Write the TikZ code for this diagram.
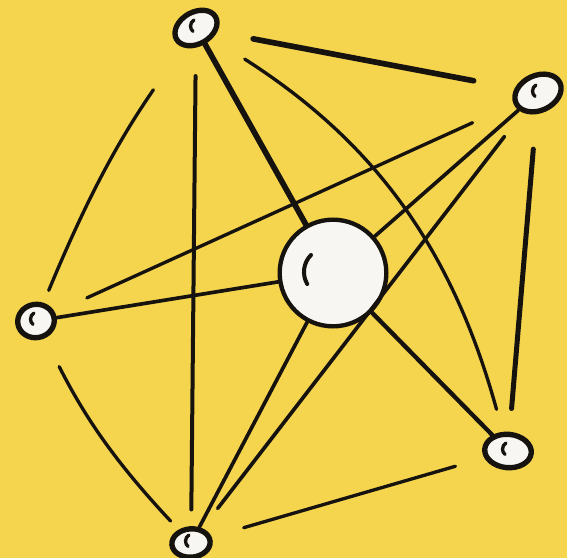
\documentclass[tikz,border=0pt]{standalone}
\usetikzlibrary{shapes.geometric}
\definecolor{sun}{RGB}{245,212,78}
\definecolor{pearl}{RGB}{248,246,243}
\definecolor{ink}{RGB}{22,18,14}
\begin{document}
\begin{tikzpicture}[x=0.6pt,y=-0.6pt,hub/.style={circle,draw=ink,line width=2.6pt,fill=pearl,minimum size=64pt,inner sep=0pt},leaf/.style={ellipse,draw=ink,line width=3.2pt,fill=pearl,inner sep=0pt},spoke/.style={draw=ink,line width=2.2pt,line cap=round},rim/.style={draw=ink,line width=2pt,line cap=round},glint/.style={draw=ink,line width=2pt,line cap=round}]
\fill[sun] (0,0) rectangle (567,558);
\useasboundingbox (0,0) rectangle (567,558);
\node[hub] (C) at (333,273) {};
\node[leaf,minimum width=27pt,minimum height=19pt,rotate=30] (T) at (196,28) {};
\node[leaf,minimum width=29pt,minimum height=21pt,rotate=25] (R) at (538,93) {};
\node[leaf,minimum width=22pt,minimum height=20pt,rotate=10] (L) at (36,321) {};
\node[leaf,minimum width=23pt,minimum height=17pt,rotate=5] (B) at (191,543) {};
\node[leaf,minimum width=28pt,minimum height=20pt,rotate=-5] (BR) at (508,451) {};
% spokes to the hub
\draw[spoke,line width=3.4pt] (C) -- (T);
\draw[spoke] (C) -- (R);
\draw[spoke] (C) -- (L);
\draw[spoke] (C) -- (B);
\draw[spoke,line width=2.6pt] (C) -- (BR);
% outer ring, loose ends
\draw[rim,line width=3.4pt,shorten <=22pt,shorten >=25pt] (T) -- (R);
\draw[rim,shorten <=23pt,shorten >=14pt] (T) to[bend left=21] (BR);
\draw[rim,line width=2.4pt,shorten <=17pt,shorten >=10pt] (T) -- (B);
\draw[rim,shorten <=31pt,shorten >=8pt] (T) to[bend right=6] (L);
\draw[rim,shorten <=27pt,shorten >=21pt] (R) -- (L);
\draw[rim,line width=2.2pt,shorten <=18pt,shorten >=15pt] (R) -- (B);
\draw[rim,line width=3pt,shorten <=21pt,shorten >=14pt] (R) -- (BR);
\draw[rim,shorten <=19pt,shorten >=7pt] (L) to[bend right=8] (B);
\draw[rim,shorten <=20pt,shorten >=18pt] (B) -- (BR);
% glints
\draw[glint,line width=2.4pt] ([shift={(-22,-18)}]C.center) arc[start angle=225,end angle=150,radius=24];
\foreach \n in {T,R,L,B,BR} {\draw[glint] ([shift={(-2,-8)}]\n.center) arc[start angle=240,end angle=130,radius=7];}
\end{tikzpicture}
\end{document}
